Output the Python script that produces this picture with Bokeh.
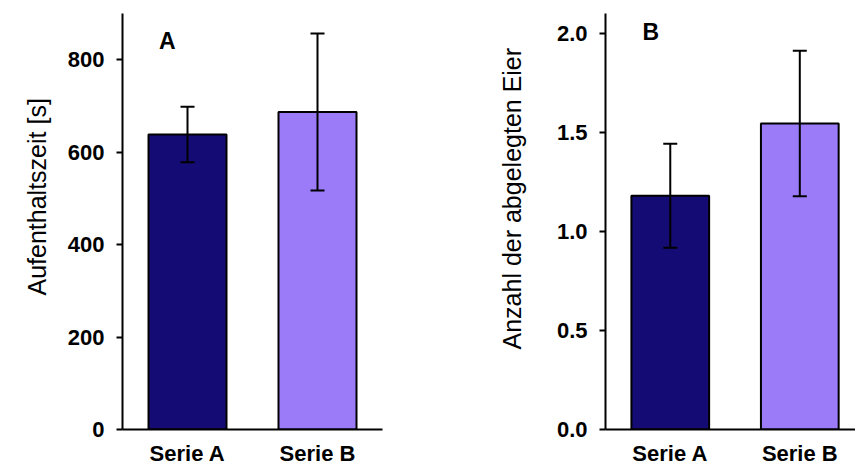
from bokeh.plotting import figure
from bokeh.layouts import row
from bokeh.models import (ColumnDataSource, Whisker, TeeHead, FixedTicker, Label,
                          Range1d, PrintfTickFormatter, Title)
from bokeh.embed import file_html
from bokeh.resources import INLINE

# ---- data ----
categories = ["Serie A", "Serie B"]
time_mean = [638, 687]
time_err = [60, 170]
eggs_mean = [1.18, 1.545]
eggs_err = [0.263, 0.367]
bar_colors = ["#140C74", "#9B7BF8"]
time_ticks = [0, 200, 400, 600, 800]
eggs_ticks = [0.0, 0.5, 1.0, 1.5, 2.0]

FONT = "Liberation Sans"


def make_panel(means, errs, ticks, y_end, ylabel, ylabel_offset, ylabel_standoff,
               letter, letter_pos, width, min_left, min_right, x_end, fmt=None):
    xs = [i + 0.5 for i in range(len(categories))]
    src = ColumnDataSource(dict(
        x=xs, top=means, color=bar_colors,
        upper=[m + e for m, e in zip(means, errs)],
        lower=[m - e for m, e in zip(means, errs)],
    ))
    p = figure(width=width, height=468, output_backend="svg", toolbar_location=None,
               x_range=Range1d(0, x_end), y_range=Range1d(0, y_end),
               min_border_left=min_left, min_border_right=min_right,
               min_border_top=13, min_border_bottom=38)
    p.vbar(x="x", top="top", width=0.6, bottom=0, source=src, fill_color="color",
           line_color="black", line_width=2)
    w = Whisker(base="x", upper="upper", lower="lower", source=src,
                line_color="black", line_width=2, level="overlay",
                upper_head=TeeHead(size=14, line_color="black", line_width=2),
                lower_head=TeeHead(size=14, line_color="black", line_width=2))
    p.add_layout(w)

    p.xgrid.visible = False
    p.ygrid.visible = False
    p.outline_line_color = None
    p.background_fill_color = "white"
    p.border_fill_color = "white"

    xa = p.xaxis[0]
    xa.ticker = FixedTicker(ticks=xs)
    xa.major_label_overrides = {x: c for x, c in zip(xs, categories)}
    xa.major_tick_line_color = None
    xa.minor_tick_line_color = None
    xa.major_tick_out = 0
    xa.major_label_standoff = 11
    xa.axis_line_width = 2
    xa.axis_line_color = "black"
    xa.major_label_text_font = FONT
    xa.major_label_text_font_style = "bold"
    xa.major_label_text_font_size = "22px"
    xa.major_label_text_color = "black"

    ya = p.yaxis[0]
    ya.ticker = FixedTicker(ticks=ticks)
    if fmt:
        ya.formatter = PrintfTickFormatter(format=fmt)
    ya.minor_tick_line_color = None
    ya.major_tick_out = 6
    ya.major_tick_in = 0
    ya.major_tick_line_width = 2
    ya.axis_line_width = 2
    ya.axis_line_color = "black"
    ya.major_label_standoff = 12
    ya.major_label_text_font = FONT
    ya.major_label_text_font_style = "bold"
    ya.major_label_text_font_size = "22px"
    ya.major_label_text_color = "black"

    # y-axis title as a side title, starting a given number of pixels above the frame bottom
    p.add_layout(Title(text=ylabel, align="left", offset=ylabel_offset,
                       standoff=ylabel_standoff,
                       text_font=FONT, text_font_style="normal",
                       text_font_size="25px", text_color="black"), "left")

    p.add_layout(Label(x=letter_pos[0], y=letter_pos[1], text=letter,
                       text_font=FONT, text_font_style="bold",
                       text_font_size="23px", text_color="black",
                       text_baseline="alphabetic"))
    return p


p1 = make_panel(time_mean, time_err, time_ticks, 900, "Aufenthaltszeit [s]", 134, 28,
                "A", (0.28, 840), width=430, min_left=122, min_right=48, x_end=2.0)
p2 = make_panel(eggs_mean, eggs_err, eggs_ticks, 2.1, "Anzahl der abgelegten Eier", 80, 56,
                "B", (0.286, 2.005), width=425, min_left=175, min_right=0, x_end=1.93,
                fmt="%.1f")

layout = row(p1, p2)
open("out.html", "w").write(file_html(layout, INLINE))
